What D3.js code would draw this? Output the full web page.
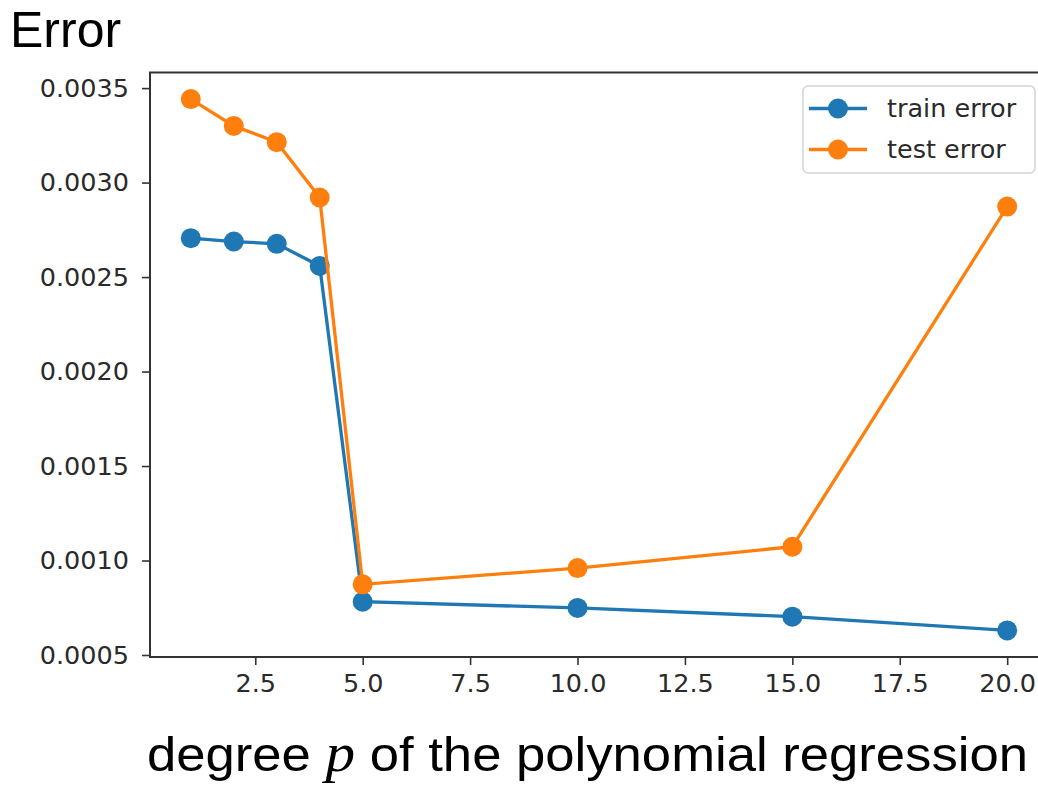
<!DOCTYPE html>
<html>
<head>
<meta charset="utf-8">
<script src="https://cdn.jsdelivr.net/npm/d3@7"></script>
<style>
  html, body { margin: 0; padding: 0; background: #fff; }
  svg { display: block; }
</style>
</head>
<body>
<div id="chart"></div>
<script>
// values
var degrees = [1, 2, 3, 4, 5, 10, 15, 20];
var trainError = [0.002706, 0.002688, 0.002676, 0.002559, 0.000782, 0.000749, 0.000703, 0.000630];
var testError = [0.003442, 0.003300, 0.003214, 0.002921, 0.000874, 0.000960, 0.001073, 0.002873];
var seriesNames = ['train error', 'test error'];
var seriesColors = ['#1f77b4', '#ff7f0e'];
var xTicks = [2.5, 5.0, 7.5, 10.0, 12.5, 15.0, 17.5, 20.0];
var yTicks = [0.0005, 0.0010, 0.0015, 0.0020, 0.0025, 0.0030, 0.0035];

var W = 1038, H = 788;
var pL = 150, pR = 1048, pT = 72.5, pB = 657;

var svg = d3.select('#chart').append('svg')
  .attr('width', W).attr('height', H);

// matplotlib style 5% margins
var xExt = d3.extent(degrees), xPad = (xExt[1] - xExt[0]) * 0.05;
var allY = trainError.concat(testError);
var yExt = d3.extent(allY), yPad = (yExt[1] - yExt[0]) * 0.05;

var x = d3.scaleLinear().domain([xExt[0] - xPad, xExt[1] + xPad]).range([pL, pR]);
var y = d3.scaleLinear().domain([yExt[0] - yPad, yExt[1] + yPad]).range([pB, pT]);

// axes
var xAxis = svg.append('g')
  .attr('transform', 'translate(0,' + pB + ')')
  .call(d3.axisBottom(x).tickValues(xTicks).tickFormat(d3.format('.1f')).tickSize(8).tickPadding(9));
var yAxis = svg.append('g')
  .attr('transform', 'translate(' + pL + ',0)')
  .call(d3.axisLeft(y).tickValues(yTicks).tickFormat(d3.format('.4f')).tickSize(8).tickPadding(13));

[xAxis, yAxis].forEach(function(g) {
  g.select('.domain').remove();
  g.selectAll('.tick line').attr('stroke', '#333').attr('stroke-width', 1.6);
  g.selectAll('.tick text')
    .attr('fill', '#2a2a2a')
    .style('font-family', '"DejaVu Sans", sans-serif')
    .style('font-size', '25.5px');
});

// spines
svg.append('rect')
  .attr('x', pL).attr('y', pT)
  .attr('width', pR - pL).attr('height', pB - pT)
  .attr('fill', 'none').attr('stroke', '#333').attr('stroke-width', 2);

// lines + markers
var line = d3.line().x(function(d) { return x(d[0]); }).y(function(d) { return y(d[1]); });
[trainError, testError].forEach(function(vals, i) {
  var pts = degrees.map(function(d, j) { return [d, vals[j]]; });
  svg.append('path')
    .datum(pts)
    .attr('d', line)
    .attr('fill', 'none')
    .attr('stroke', seriesColors[i])
    .attr('stroke-width', 3.3);
  svg.selectAll('.m' + i)
    .data(pts).enter().append('circle')
    .attr('class', 'm' + i)
    .attr('cx', function(d) { return x(d[0]); })
    .attr('cy', function(d) { return y(d[1]); })
    .attr('r', 10)
    .attr('fill', seriesColors[i]);
});

// legend
var lg = svg.append('g');
lg.append('rect')
  .attr('x', 803).attr('y', 86).attr('width', 232).attr('height', 87)
  .attr('rx', 5).attr('fill', '#fff').attr('fill-opacity', 0.8)
  .attr('stroke', '#d4d4d4').attr('stroke-width', 1.5);
seriesNames.forEach(function(name, i) {
  var ly = 108.5 + i * 41;
  lg.append('line')
    .attr('x1', 809).attr('x2', 867).attr('y1', ly).attr('y2', ly)
    .attr('stroke', seriesColors[i]).attr('stroke-width', 3.3);
  lg.append('circle')
    .attr('cx', 838).attr('cy', ly).attr('r', 10).attr('fill', seriesColors[i]);
  lg.append('text')
    .attr('x', 887).attr('y', ly).attr('dy', '0.35em')
    .attr('fill', '#2a2a2a')
    .style('font-family', '"DejaVu Sans", sans-serif')
    .style('font-size', '25.5px')
    .text(name);
});

// titles
svg.append('text')
  .attr('x', 10).attr('y', 47)
  .style('font-family', '"Liberation Sans", Arial, sans-serif')
  .style('font-size', '50px')
  .attr('fill', '#000')
  .text('Error');

var xl = svg.append('text')
  .attr('x', 147).attr('y', 771)
  .attr('textLength', 881).attr('lengthAdjust', 'spacingAndGlyphs')
  .style('font-family', '"Liberation Sans", Arial, sans-serif')
  .style('font-size', '48px')
  .attr('fill', '#000');
xl.append('tspan').text('degree ');
xl.append('tspan')
  .style('font-family', '"Liberation Serif", "DejaVu Serif", serif')
  .style('font-style', 'italic')
  .style('font-size', '54px')
  .text('p');
xl.append('tspan').text(' of the polynomial regression');
</script>
</body>
</html>
